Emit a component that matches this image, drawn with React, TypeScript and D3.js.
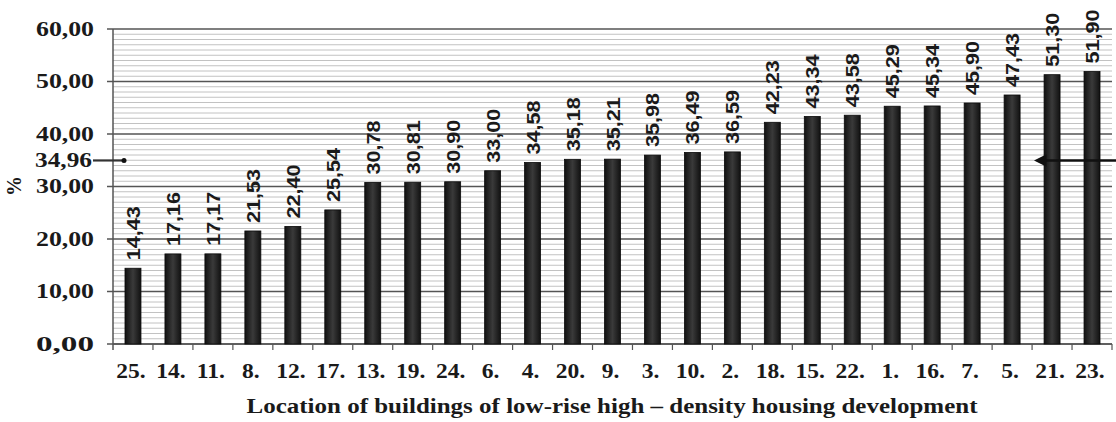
import React from "react";
import * as d3 from "d3";

const categories = ["25.", "14.", "11.", "8.", "12.", "17.", "13.", "19.", "24.", "6.", "4.", "20.", "9.", "3.", "10.", "2.", "18.", "15.", "22.", "1.", "16.", "7.", "5.", "21.", "23."];
const values = [14.43, 17.16, 17.17, 21.53, 22.4, 25.54, 30.78, 30.81, 30.9, 33.0, 34.58, 35.18, 35.21, 35.98, 36.49, 36.59, 42.23, 43.34, 43.58, 45.29, 45.34, 45.9, 47.43, 51.3, 51.9];
const yTicks = [0, 10, 20, 30, 40, 50, 60];
const markerValue = 34.96;
const xTitle = "Location of buildings of low-rise high \u2013 density housing development";
const yTitle = "%";

const fmt = (v: number) => v.toFixed(2).replace(".", ",");

export default function App() {
  const W = 1116, H = 422;
  const left = 113, right = 1112, top = 29, bottom = 344;
  const x = d3.scaleBand<string>().domain(categories).range([left, right]).paddingInner(0.6).paddingOuter(0.3);
  const xb = d3.scaleBand<string>().domain(categories).range([left, right]);
  const y = d3.scaleLinear().domain([0, 60]).range([bottom, top]);
  const minor = d3.range(0, 61, 1).filter((v) => v % 10 !== 0);
  const serif = "'Liberation Serif', 'Times New Roman', serif";
  const sans = "'Liberation Sans', Arial, sans-serif";
  const my = y(markerValue);
  return (
    <svg width={W} height={H} style={{ position: "absolute", left: 0, top: 0, background: "#fff" }}>
      <defs>
        <linearGradient id="barg" x1="0" x2="1" y1="0" y2="0">
          <stop offset="0" stopColor="#111" />
          <stop offset="0.5" stopColor="#3a3a3a" />
          <stop offset="1" stopColor="#111" />
        </linearGradient>
        <marker id="arrL" viewBox="0 0 10 10" refX="2" refY="5" markerWidth="5" markerHeight="5" orient="auto-start-reverse">
          <path d="M0,0 L10,5 L0,10 z" fill="#111" />
        </marker>
      </defs>
      {minor.map((v) => (
        <line key={"m" + v} x1={left} x2={right} y1={y(v)} y2={y(v)} stroke="#c2c2c2" strokeWidth={1} />
      ))}
      {yTicks.map((v) => (
        <g key={"t" + v}>
          <line x1={left - 6} x2={right} y1={y(v)} y2={y(v)} stroke="#555" strokeWidth={1.5} />
          <text x={94} y={y(v) + 6.5} textAnchor="end" fontFamily={serif} fontWeight="bold" fontSize={20}
            textLength={58} lengthAdjust="spacingAndGlyphs" fill="#1a1a1a">{fmt(v)}</text>
        </g>
      ))}
      <line x1={left} x2={left} y1={top} y2={bottom + 6} stroke="#555" strokeWidth={1.5} />
      <line x1={left} x2={right} y1={bottom} y2={bottom} stroke="#555" strokeWidth={1.5} />
      {categories.map((c, i) => (
        <line key={"xt" + i} x1={(xb(c) as number) + xb.bandwidth()} x2={(xb(c) as number) + xb.bandwidth()}
          y1={bottom} y2={bottom + 6} stroke="#555" strokeWidth={1.2} />
      ))}
      {categories.map((c, i) => {
        const bx = x(c) as number;
        const cx = bx + x.bandwidth() / 2;
        const ty = y(values[i]);
        return (
          <g key={"b" + i}>
            <rect x={bx} y={ty} width={x.bandwidth()} height={bottom - ty} fill="url(#barg)" stroke="#0a0a0a" strokeWidth={0.8} />
            <text transform={`translate(${cx + 7},${ty - 8}) rotate(-90)`} fontFamily={sans} fontWeight="bold"
              fontSize={18} textLength={54} lengthAdjust="spacingAndGlyphs" fill="#1a1a1a">{fmt(values[i])}</text>
            <text transform={`translate(${cx - 2},378) scale(1.12,1)`} textAnchor="middle" fontFamily={serif} fontWeight="bold" fontSize={21} fill="#1a1a1a">{c}</text>
          </g>
        );
      })}
      <text x={612} y={413} textAnchor="middle" fontFamily={serif} fontWeight="bold" fontSize={20}
        textLength={731} lengthAdjust="spacingAndGlyphs" fill="#1a1a1a">{xTitle}</text>
      <text transform={`translate(21,186) rotate(-90)`} textAnchor="middle" fontFamily={serif} fontWeight="bold" fontSize={20} fill="#1a1a1a">{yTitle}</text>
      <text x={92} y={my + 6.5} textAnchor="end" fontFamily={serif} fontWeight="bold" fontSize={20}
        textLength={57} lengthAdjust="spacingAndGlyphs" fill="#1a1a1a">{fmt(markerValue)}</text>
      <line x1={93} x2={122} y1={my} y2={my} stroke="#333" strokeWidth={2.2} />
      <circle cx={124} cy={my} r={2.5} fill="#111" />
      <line x1={1116} x2={1044} y1={my} y2={my} stroke="#111" strokeWidth={2.5} markerEnd="url(#arrL)" />
    </svg>
  );
}
